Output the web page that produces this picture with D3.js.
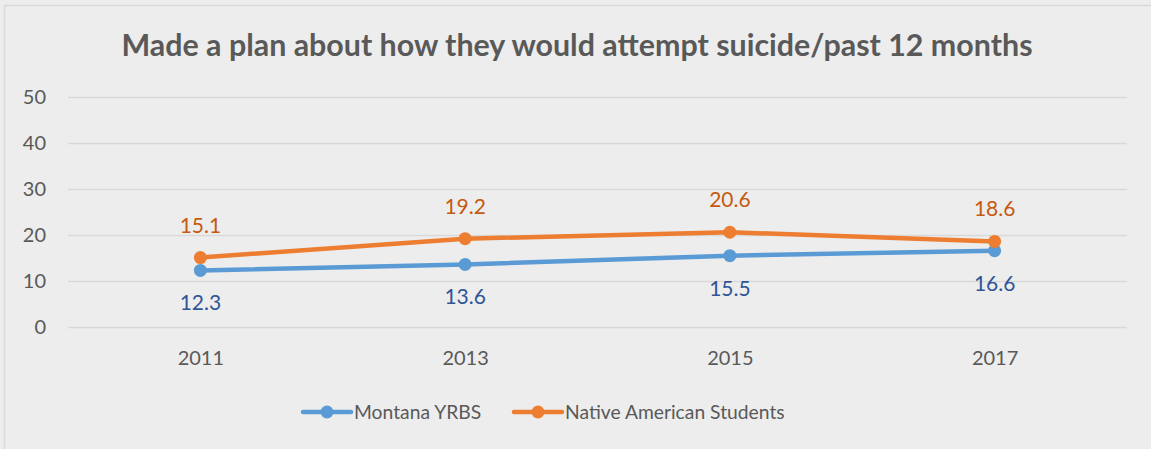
<!DOCTYPE html>
<html>
<head>
<meta charset="utf-8">
<script src="https://cdn.jsdelivr.net/npm/d3@7"></script>
<style>
    html, body { margin: 0; padding: 0; background: #ededed; }
    svg { display: block; font-family: Lato, "Open Sans", sans-serif; }
</style>
</head>
<body>
<div id="chart"></div>
<script>
const title = "Made a plan about how they would attempt suicide/past 12 months";
const years = ["2011", "2013", "2015", "2017"];
const montana = [12.3, 13.6, 15.5, 16.6];
const native = [15.1, 19.2, 20.6, 18.6];
const yTicks = [0, 10, 20, 30, 40, 50];
const seriesNames = ["Montana YRBS", "Native American Students"];

const width = 1151, height = 449;
const textColour = "#595959";
const lineColours = ["#5b9bd5", "#ed7d31"];
const labelColours = ["#2f5597", "#c55a11"];

let svg = d3.select("#chart")
    .append("svg")
    .attr("width", width)
    .attr("height", height);

// chart frame
svg.append("rect")
    .attr("x", 4.5)
    .attr("y", 5.5)
    .attr("width", 1160)
    .attr("height", 460)
    .style("fill", "#ededed")
    .style("stroke", "#d9d9d9")
    .style("stroke-width", 1.5);

svg.append("text")
    .attr("x", 577)
    .attr("y", 56)
    .attr("text-anchor", "middle")
    .style("font-size", "30.4px")
    .style("font-weight", "bold")
    .style("fill", textColour)
    .text(title);

let xScale = d3.scalePoint()
    .domain(years)
    .range([68, 1127])
    .padding(0.5);

let yScale = d3.scaleLinear()
    .domain([0, 50])
    .range([327, 97]);

// gridlines + y labels
let yAxis = svg.append("g")
    .attr("transform", "translate(68,0)")
    .call(d3.axisLeft(yScale).tickValues(yTicks).tickSize(-(1127 - 68)).tickPadding(22));
yAxis.select(".domain").remove();
yAxis.selectAll(".tick line")
    .style("stroke", "#d9d9d9")
    .style("stroke-width", 1.5);
yAxis.selectAll(".tick text")
    .style("font-family", "Lato, sans-serif")
    .style("font-size", "20px")
    .style("fill", textColour);

// x labels
let xAxis = svg.append("g")
    .attr("transform", "translate(0,327)")
    .call(d3.axisBottom(xScale).tickSize(0).tickPadding(24));
xAxis.select(".domain").remove();
xAxis.selectAll(".tick text")
    .style("font-family", "Lato, sans-serif")
    .style("font-size", "20px")
    .style("fill", textColour);

let line = d3.line()
    .x((d, i) => xScale(years[i]))
    .y(d => yScale(d));

[montana, native].forEach(function (values, s) {
    let g = svg.append("g");
    g.append("path")
        .datum(values)
        .attr("d", line)
        .style("fill", "none")
        .style("stroke", lineColours[s])
        .style("stroke-width", 4.5)
        .style("stroke-linejoin", "round");
    g.selectAll("circle")
        .data(values)
        .enter()
        .append("circle")
        .attr("cx", (d, i) => xScale(years[i]))
        .attr("cy", d => yScale(d))
        .attr("r", 6.5)
        .style("fill", lineColours[s]);
    g.selectAll("text")
        .data(values)
        .enter()
        .append("text")
        .attr("x", (d, i) => xScale(years[i]))
        .attr("y", d => s === 0 ? yScale(d) + 40 : yScale(d) - 25)
        .attr("text-anchor", "middle")
        .style("font-size", "21px")
        .style("fill", labelColours[s])
        .text(d => d.toFixed(1));
});

// legend
let legendX = [303, 514];
seriesNames.forEach(function (name, s) {
    let lg = svg.append("g")
        .attr("transform", "translate(" + legendX[s] + ",412)");
    lg.append("line")
        .attr("x1", 0)
        .attr("x2", 48)
        .style("stroke", lineColours[s])
        .style("stroke-width", 4.5)
        .style("stroke-linecap", "round");
    lg.append("circle")
        .attr("cx", 24)
        .attr("r", 6.5)
        .style("fill", lineColours[s]);
    lg.append("text")
        .attr("x", 51)
        .attr("y", 7)
        .style("font-size", "19.3px")
        .style("fill", textColour)
        .text(name);
});
</script>
</body>
</html>
